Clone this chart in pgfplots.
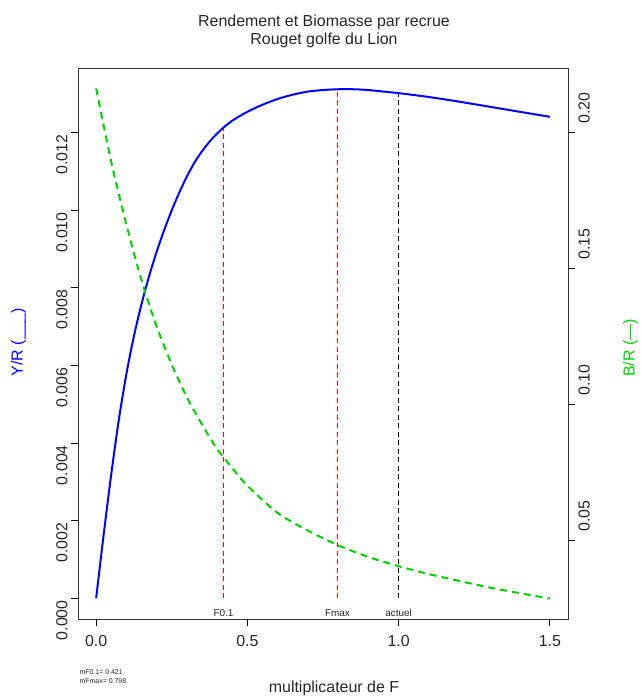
\documentclass[border=0pt]{standalone}
\usepackage{fontspec}
\setmainfont{Liberation Sans}
\usepackage{pgfplots}
\pgfplotsset{compat=1.18}
\definecolor{rgreen}{RGB}{0,205,0}
\definecolor{rblue}{RGB}{0,0,255}
\definecolor{rred}{RGB}{255,0,0}
\begin{document}
\begin{tikzpicture}
\path[use as bounding box] (0,0) rectangle (642bp,697bp);
\begin{axis}[
  at={(78bp,78bp)}, anchor=south west, width=490bp, height=551bp, scale only axis,
  xmin=-0.06, xmax=1.56, ymin=-0.000534, ymax=0.013668,
  xtick={0,0.5,1,1.5}, ytick={0,0.002,0.004,0.006,0.008,0.010,0.012},
  tick pos=left, tick align=outside, major tick length=7bp,
  axis line style={black!80, line width=0.8bp},
  tick style={black, line width=0.8bp},
  scaled y ticks=false,
  /pgf/number format/assume math mode=true,
  ticklabel style={font=\fontsize{16}{16}\selectfont, text=black!85},
  x tick label style={yshift=-6bp, /pgf/number format/.cd, fixed, fixed zerofill, precision=1, /tikz/.cd},
  y tick label style={rotate=90, anchor=south, xshift=-22bp, /pgf/number format/.cd, fixed, fixed zerofill, precision=3, /tikz/.cd},
  clip=false,
]
\addplot[draw=rred, line width=1bp, dash pattern=on 5bp off 3.5bp] table[row sep=\\] {x y\\ 0.421 0\\ 0.421 0.01212\\};
\addplot[draw=rred, line width=1bp, dash pattern=on 5bp off 3.5bp] table[row sep=\\] {x y\\ 0.798 0\\ 0.798 0.01312\\};
\addplot[draw=black, line width=1bp, dash pattern=on 5bp off 3.5bp] table[row sep=\\] {x y\\ 1.0 0\\ 1.0 0.01302\\};
\addplot[rblue, line width=2bp, smooth] coordinates {
(0,0) (0.025,0.00165) (0.05,0.0032) (0.075,0.0046) (0.1,0.00578) (0.125,0.00676)
(0.15,0.00758) (0.175,0.0083) (0.2,0.00893) (0.225,0.00949) (0.25,0.0100) (0.275,0.01046)
(0.3,0.01087) (0.325,0.01123) (0.35,0.01152) (0.375,0.01177) (0.4,0.01198) (0.425,0.01216)
(0.45,0.01231) (0.475,0.01243) (0.5,0.01254) (0.55,0.01272) (0.6,0.01287) (0.65,0.01298)
(0.7,0.01306) (0.75,0.0131) (0.8,0.01312) (0.85,0.01312) (0.9,0.0131) (0.95,0.01306)
(1.0,0.01302) (1.1,0.01292) (1.2,0.01280) (1.3,0.01267) (1.4,0.01254) (1.5,0.01241)};
\node[anchor=base, font=\fontsize{10}{10}\selectfont, text=black!85] at (axis cs:0.421,-0.00048) {F0.1};
\node[anchor=base, font=\fontsize{10}{10}\selectfont, text=black!85] at (axis cs:0.798,-0.00048) {Fmax};
\node[anchor=base, font=\fontsize{10}{10}\selectfont, text=black!85] at (axis cs:1.0,-0.00048) {actuel};
\end{axis}
\begin{axis}[
  at={(78bp,78bp)}, anchor=south west, width=490bp, height=551bp, scale only axis,
  xmin=-0.06, xmax=1.56, ymin=0.0210, ymax=0.2235,
  axis x line=none, axis y line*=right,
  ytick={0.05,0.10,0.15,0.20},
  tick align=outside, major tick length=7bp,
  axis line style={black!80, line width=0.8bp},
  tick style={black, line width=0.8bp},
  /pgf/number format/assume math mode=true,
  ticklabel style={font=\fontsize{16}{16}\selectfont, text=black!85},
  y tick label style={rotate=90, anchor=north, xshift=24bp, /pgf/number format/.cd, fixed, fixed zerofill, precision=2, /tikz/.cd},
]
\addplot[rgreen, line width=2bp, dash pattern=on 7bp off 5bp, smooth] coordinates {
(0,0.216) (0.05,0.189) (0.1,0.166) (0.15,0.1455) (0.2,0.1285) (0.25,0.1145)
(0.3,0.1025) (0.35,0.0925) (0.4,0.0835) (0.45,0.0765) (0.5,0.0700) (0.6,0.0600)
(0.7,0.0535) (0.8,0.0481) (0.9,0.0438) (1.0,0.0404) (1.1,0.0375) (1.2,0.0350)
(1.3,0.0326) (1.4,0.0305) (1.5,0.0285)};
\end{axis}
\node[anchor=mid, font=\fontsize{16}{16}\selectfont, text=black!85] at (324bp,673bp) {Rendement et Biomasse par recrue};
\node[anchor=mid, font=\fontsize{16}{16}\selectfont, text=black!85] at (324bp,655bp) {Rouget golfe du Lion};
\node[anchor=mid, font=\fontsize{16}{16}\selectfont, text=black!85] at (334bp,7bp) {multiplicateur de F};
\node[anchor=mid, rotate=90, font=\fontsize{16}{16}\selectfont, text=rblue] at (20bp,355bp) {Y/R (\_\_\_)};
\node[anchor=mid, rotate=90, font=\fontsize{16}{16}\selectfont, text=rgreen] at (632bp,349bp) {B/R (—)};
\node[anchor=west, font=\fontsize{7}{7}\selectfont, text=black!85] at (76bp,25bp) {mF0.1= 0.421};
\node[anchor=west, font=\fontsize{7}{7}\selectfont, text=black!85] at (76bp,16bp) {mFmax= 0.798};
\end{tikzpicture}
\end{document}
